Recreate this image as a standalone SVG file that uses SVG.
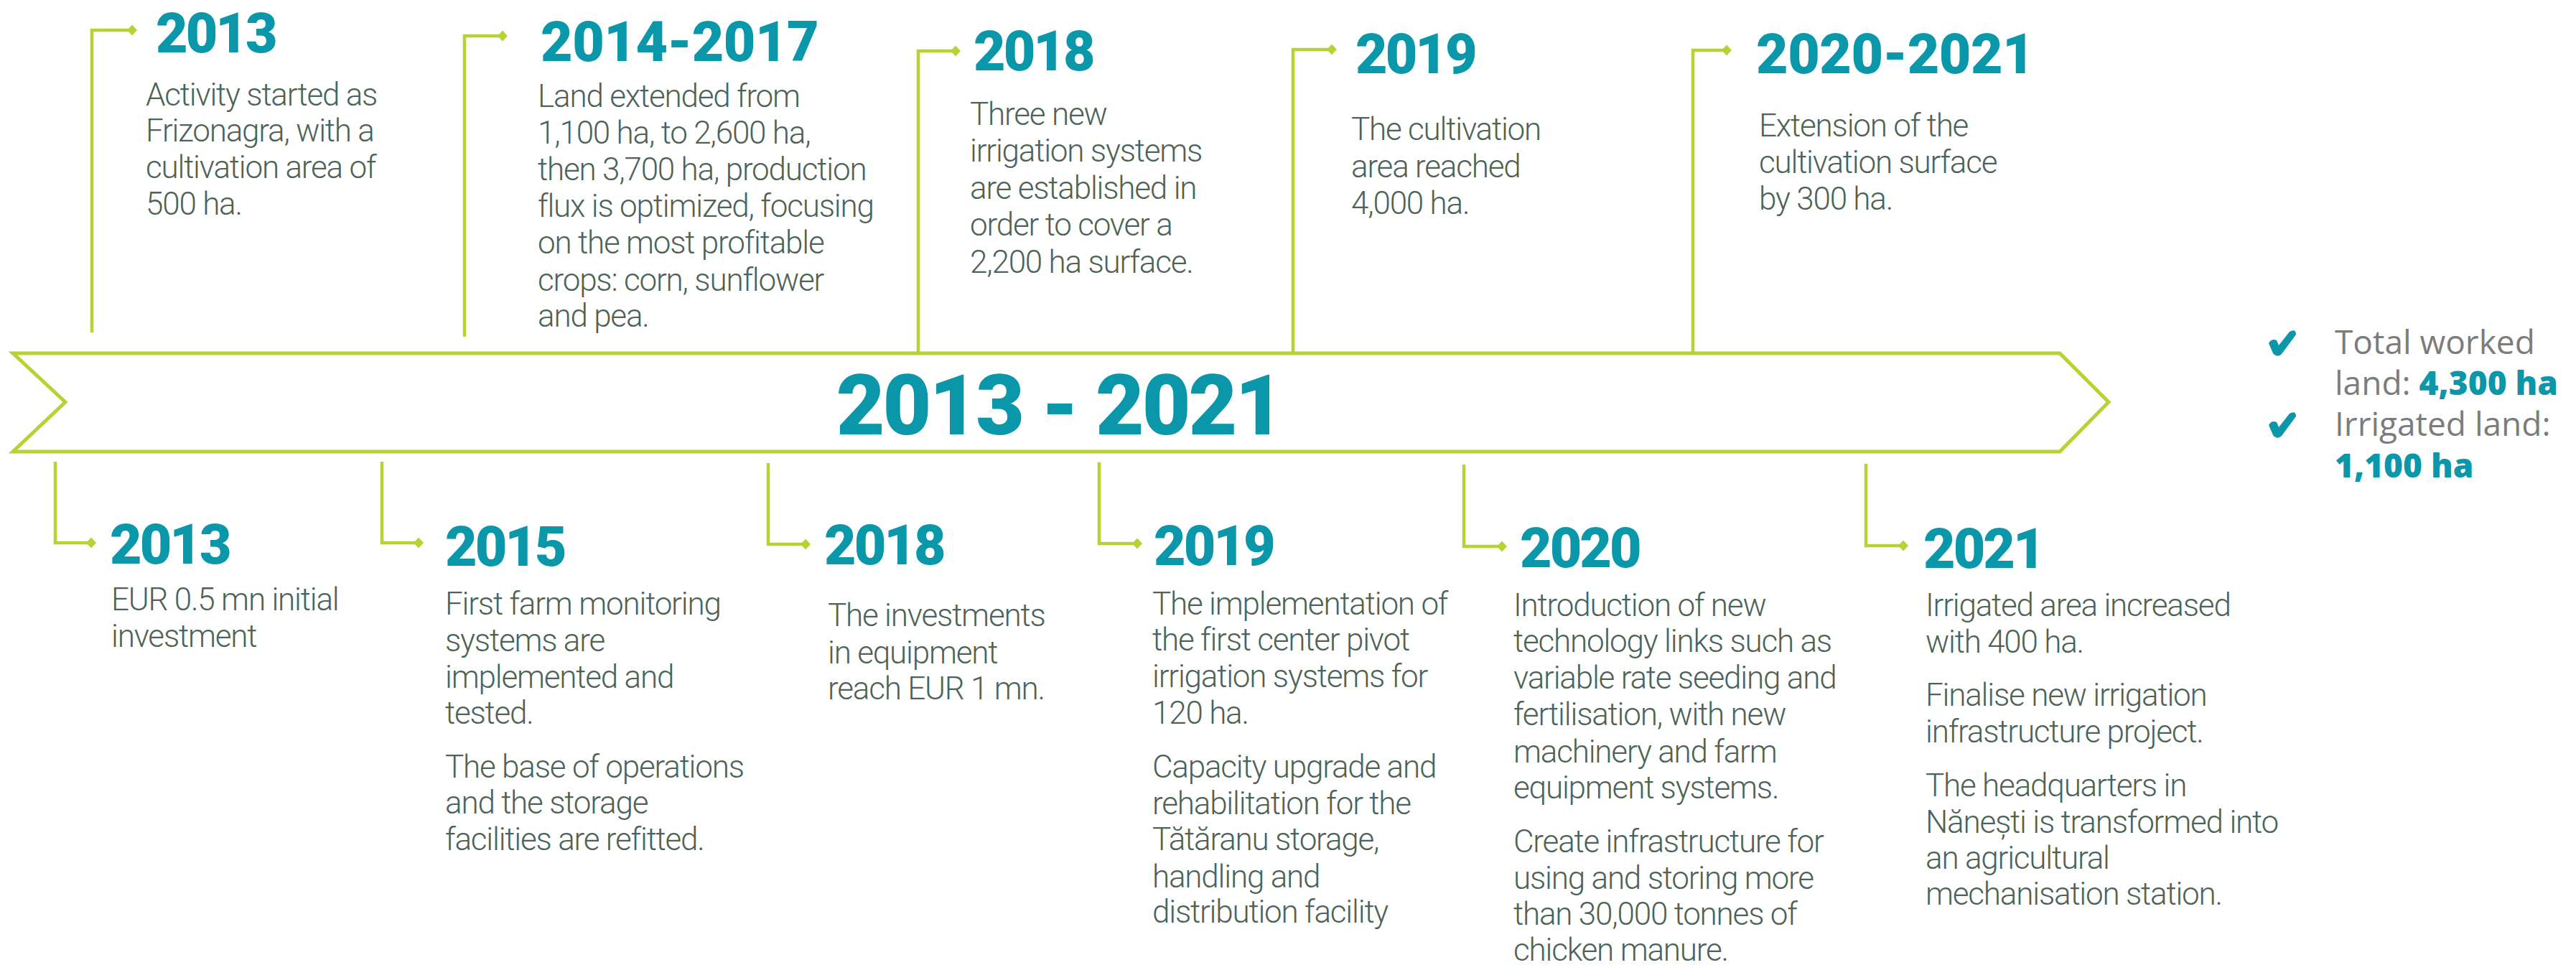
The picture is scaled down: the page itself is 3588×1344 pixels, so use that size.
<svg xmlns="http://www.w3.org/2000/svg" width="3588" height="1344" viewBox="0 0 3588 1344">
  <defs>
    <style>
      .h { font-family: Roboto, "Noto Sans", sans-serif; font-weight: 900; font-size: 77px; fill: #0a97a9; letter-spacing: -3px; }
      .hr { letter-spacing: -0.5px; }
      .b { font-family: Roboto, "Noto Sans", sans-serif; font-weight: 300; font-size: 44px; fill: #4d6356; letter-spacing: -1.2px; }
      .title { font-family: Roboto, "Noto Sans", sans-serif; font-weight: 900; font-size: 117px; fill: #0a97a9; letter-spacing: -3px; }
      .s { font-family: "Open Sans", "Noto Sans", sans-serif; font-weight: 400; font-size: 46px; fill: #7c7c7c; }
      .sb { font-family: "Open Sans", "Noto Sans", sans-serif; font-weight: 800; fill: #0a97a9; }
      .link { fill: none; stroke: #b5d334; stroke-width: 4.5; marker-end: url(#dot); }
      .band { fill: none; stroke: #b5d334; stroke-width: 5; stroke-linejoin: miter; }
      .check { fill: #0a97a9; stroke: none; }
    </style>
    <marker id="dot" viewBox="-8 -8 16 16" refX="0" refY="0" markerWidth="16" markerHeight="16" markerUnits="userSpaceOnUse" orient="auto">
      <path d="M-7,0 L0,-7.5 L7,0 L0,7.5 Z" fill="#b5d334"/>
    </marker>
    <path id="tick" d="M0,18 Q4,11 11,14 L14,21 L29,2 Q38,-3 38,6 L18,33 Q12,39 6,32 Z"/>
  </defs>

  <rect width="3588" height="1344" fill="#ffffff"/>

  <!-- central period band -->
  <g id="band">
    <polygon class="band" points="18,492 2869,492 2937,560 2869,629 18,629 91,560"/>
    <text class="title" x="1475" y="605" text-anchor="middle">2013 - 2021</text>
  </g>

  <!-- connectors from the band to each milestone -->
  <g id="connectors">
    <path class="link" d="M128,463 V42 H184"/>
    <path class="link" d="M647,469 V50 H700"/>
    <path class="link" d="M1279,492 V71 H1331"/>
    <path class="link" d="M1801,492 V69 H1855"/>
    <path class="link" d="M2358,492 V70 H2405"/>

    <path class="link" d="M77,643 V756 H127"/>
    <path class="link" d="M532,643 V756 H583"/>
    <path class="link" d="M1070,645 V758 H1122"/>
    <path class="link" d="M1531,644 V757 H1584"/>
    <path class="link" d="M2039,647 V761 H2092"/>
    <path class="link" d="M2599,646 V760 H2651"/>
  </g>

  <!-- upper milestones -->
  <g id="top-2013">
    <text class="h" x="217" y="73">2013</text>
    <text class="b" x="203">
      <tspan x="203" y="147">Activity started as</tspan>
      <tspan x="203" y="197">Frizonagra, with a</tspan>
      <tspan x="203" y="248">cultivation area of</tspan>
      <tspan x="203" y="299">500 ha.</tspan>
    </text>
  </g>

  <g id="top-2014-2017">
    <text class="h hr" x="753" y="85">2014-2017</text>
    <text class="b">
      <tspan x="749" y="149">Land extended from</tspan>
      <tspan x="749" y="200">1,100 ha, to 2,600 ha,</tspan>
      <tspan x="749" y="251">then 3,700 ha, production</tspan>
      <tspan x="749" y="302">flux is optimized, focusing</tspan>
      <tspan x="749" y="353">on the most profitable</tspan>
      <tspan x="749" y="405">crops: corn, sunflower</tspan>
      <tspan x="749" y="455">and pea.</tspan>
    </text>
  </g>

  <g id="top-2018">
    <text class="h" x="1356" y="98">2018</text>
    <text class="b">
      <tspan x="1351" y="174">Three new</tspan>
      <tspan x="1351" y="225">irrigation systems</tspan>
      <tspan x="1351" y="277">are established in</tspan>
      <tspan x="1351" y="328">order to cover a</tspan>
      <tspan x="1351" y="380">2,200 ha surface.</tspan>
    </text>
  </g>

  <g id="top-2019">
    <text class="h" x="1888" y="102">2019</text>
    <text class="b">
      <tspan x="1882" y="195">The cultivation</tspan>
      <tspan x="1882" y="247">area reached</tspan>
      <tspan x="1882" y="298">4,000 ha.</tspan>
    </text>
  </g>

  <g id="top-2020-2021">
    <text class="h hr" x="2446" y="102">2020-2021</text>
    <text class="b">
      <tspan x="2450" y="190">Extension of the</tspan>
      <tspan x="2450" y="241">cultivation surface</tspan>
      <tspan x="2450" y="292">by 300 ha.</tspan>
    </text>
  </g>

  <!-- lower milestones -->
  <g id="bottom-2013">
    <text class="h" x="153" y="785">2013</text>
    <text class="b">
      <tspan x="155" y="850">EUR 0.5 mn initial</tspan>
      <tspan x="155" y="901">investment</tspan>
    </text>
  </g>

  <g id="bottom-2015">
    <text class="h" x="620" y="788">2015</text>
    <text class="b">
      <tspan x="620" y="856">First farm monitoring</tspan>
      <tspan x="620" y="907">systems are</tspan>
      <tspan x="620" y="958">implemented and</tspan>
      <tspan x="620" y="1008">tested.</tspan>
      <tspan x="620" y="1083">The base of operations</tspan>
      <tspan x="620" y="1133">and the storage</tspan>
      <tspan x="620" y="1184">facilities are refitted.</tspan>
    </text>
  </g>

  <g id="bottom-2018">
    <text class="h" x="1148" y="786">2018</text>
    <text class="b">
      <tspan x="1153" y="872">The investments</tspan>
      <tspan x="1153" y="924">in equipment</tspan>
      <tspan x="1153" y="974">reach EUR 1 mn.</tspan>
    </text>
  </g>

  <g id="bottom-2019">
    <text class="h" x="1607" y="787">2019</text>
    <text class="b">
      <tspan x="1605" y="856">The implementation of</tspan>
      <tspan x="1605" y="906">the first center pivot</tspan>
      <tspan x="1605" y="957">irrigation systems for</tspan>
      <tspan x="1605" y="1008">120 ha.</tspan>
      <tspan x="1605" y="1083">Capacity upgrade and</tspan>
      <tspan x="1605" y="1134">rehabilitation for the</tspan>
      <tspan x="1605" y="1184">Tătăranu storage,</tspan>
      <tspan x="1605" y="1236">handling and</tspan>
      <tspan x="1605" y="1285">distribution facility</tspan>
    </text>
  </g>

  <g id="bottom-2020">
    <text class="h" x="2117" y="790">2020</text>
    <text class="b">
      <tspan x="2108" y="858">Introduction of new</tspan>
      <tspan x="2108" y="908">technology links such as</tspan>
      <tspan x="2108" y="959">variable rate seeding and</tspan>
      <tspan x="2108" y="1010">fertilisation, with new</tspan>
      <tspan x="2108" y="1062">machinery and farm</tspan>
      <tspan x="2108" y="1112">equipment systems.</tspan>
      <tspan x="2108" y="1187">Create infrastructure for</tspan>
      <tspan x="2108" y="1238">using and storing more</tspan>
      <tspan x="2108" y="1288">than 30,000 tonnes of</tspan>
      <tspan x="2108" y="1338">chicken manure.</tspan>
    </text>
  </g>

  <g id="bottom-2021">
    <text class="h" x="2679" y="791">2021</text>
    <text class="b">
      <tspan x="2682" y="858">Irrigated area increased</tspan>
      <tspan x="2682" y="909">with 400 ha.</tspan>
      <tspan x="2682" y="983">Finalise new irrigation</tspan>
      <tspan x="2682" y="1034">infrastructure project.</tspan>
      <tspan x="2682" y="1109">The headquarters in</tspan>
      <tspan x="2682" y="1160">Nănești is transformed into</tspan>
      <tspan x="2682" y="1210">an agricultural</tspan>
      <tspan x="2682" y="1260">mechanisation station.</tspan>
    </text>
  </g>

  <!-- totals summary -->
  <g id="summary">
    <use href="#tick" class="check" x="3160" y="460"/>
    <use href="#tick" class="check" x="3160" y="574"/>
    <text class="s">
      <tspan x="3252" y="493">Total worked</tspan>
      <tspan x="3252" y="550">land: <tspan class="sb">4,300 ha</tspan></tspan>
      <tspan x="3252" y="607">Irrigated land:</tspan>
      <tspan x="3252" y="665" class="sb">1,100 ha</tspan>
    </text>
  </g>
</svg>
